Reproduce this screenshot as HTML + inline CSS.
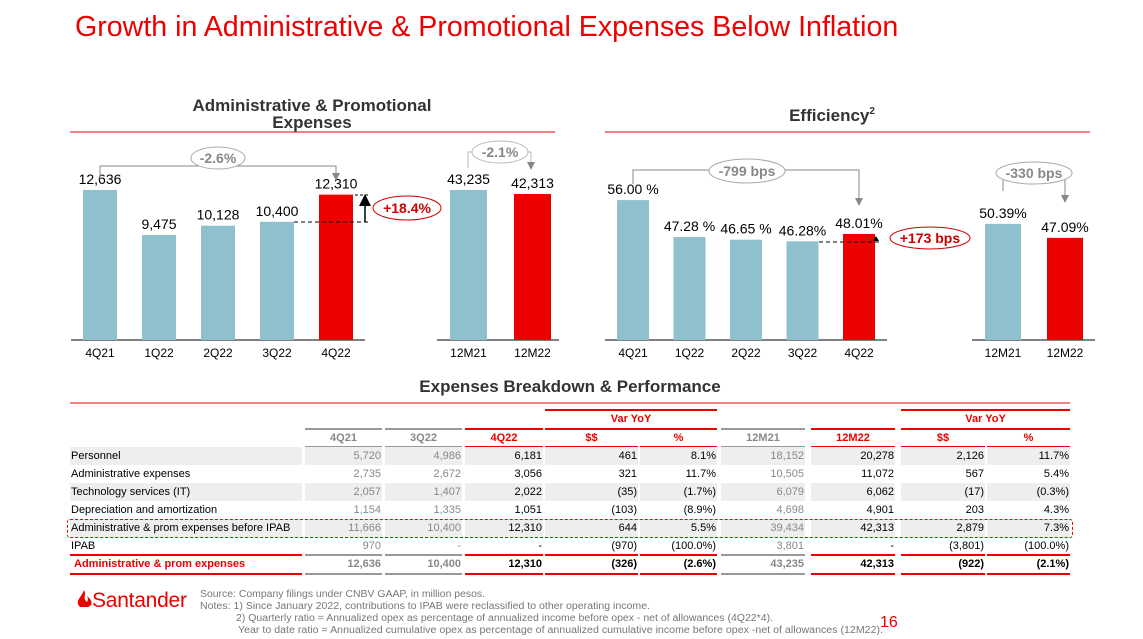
<!DOCTYPE html>
<html><head><meta charset="utf-8"><style>
body{margin:0;width:1143px;height:639px;background:#fff;position:relative;overflow:hidden;font-family:"Liberation Sans",sans-serif}
.a{position:absolute;white-space:nowrap}
.c{position:absolute;font-size:11px;line-height:18px;height:18px;box-sizing:border-box;padding:0 1px;white-space:nowrap}
</style></head><body>
<div class="a" style="left:75px;top:11px;font-size:28.6px;color:#ec0000">Growth in Administrative &amp; Promotional Expenses Below Inflation</div>
<svg id="ch" width="1143" height="639" style="position:absolute;left:0;top:0" font-family="Liberation Sans, sans-serif">
<defs><marker id="ag" markerWidth="8" markerHeight="8" refX="4" refY="4" orient="auto"><path d="M0,0L8,4L0,8z" fill="#888"/></marker>
<marker id="ab" markerWidth="8" markerHeight="8" refX="4" refY="4" orient="auto"><path d="M0,0L8,4L0,8z" fill="#000"/></marker></defs>
<text x="312" y="111" text-anchor="middle" font-size="17" font-weight="bold" fill="#333">Administrative &amp; Promotional</text>
<text x="312" y="128" text-anchor="middle" font-size="17" font-weight="bold" fill="#333">Expenses</text>
<line x1="70" y1="132" x2="555" y2="132" stroke="#ec0000"/>
<text x="832" y="121" text-anchor="middle" font-size="17" font-weight="bold" fill="#333">Efficiency<tspan font-size="10" dy="-7">2</tspan></text>
<line x1="605" y1="132" x2="1090" y2="132" stroke="#ec0000"/>
<text x="570" y="392" text-anchor="middle" font-size="17" font-weight="bold" fill="#333">Expenses Breakdown &amp; Performance</text>
<line x1="70" y1="403" x2="1070" y2="403" stroke="#ec0000"/>
<g id="marks"></g>
<g fill="none" stroke="#888">
<path d="M100,180V166H336V177" marker-end="url(#ag)"/></g>
<ellipse cx="218" cy="158" rx="27" ry="11" fill="#fff" stroke="#aaa"/>
<text x="218" y="163" text-anchor="middle" font-size="14" font-weight="bold" fill="#888">-2.6%</text>
<path d="M468,168V152H531V166" fill="none" stroke="#bbb" marker-end="url(#ag)"/>
<ellipse cx="500" cy="152" rx="28" ry="11" fill="#fff" stroke="#bbb"/>
<text x="500" y="157" text-anchor="middle" font-size="14" font-weight="bold" fill="#888">-2.1%</text>
<line x1="294" y1="222" x2="370" y2="222" stroke="#000" stroke-dasharray="4,3"/>
<line x1="365" y1="222" x2="365" y2="200" stroke="#000" stroke-width="1.5" marker-end="url(#ab)"/>
<line x1="355" y1="195" x2="370" y2="195" stroke="#000" stroke-dasharray="3,2"/>
<ellipse cx="407" cy="208" rx="34" ry="12" fill="#fff" stroke="#c00"/>
<text x="407" y="213" text-anchor="middle" font-size="14" font-weight="bold" fill="#c00">+18.4%</text>
<path d="M633,184V170H859V202" fill="none" stroke="#888" marker-end="url(#ag)"/>
<ellipse cx="747" cy="171" rx="38" ry="12" fill="#fff" stroke="#aaa"/>
<text x="747" y="176" text-anchor="middle" font-size="14" font-weight="bold" fill="#888">-799 bps</text>
<path d="M1003,191V174H1065V199" fill="none" stroke="#888" marker-end="url(#ag)"/>
<ellipse cx="1034" cy="173" rx="38" ry="11" fill="#fff" stroke="#aaa"/>
<text x="1034" y="178" text-anchor="middle" font-size="14" font-weight="bold" fill="#888">-330 bps</text>
<line x1="819" y1="242" x2="882" y2="242" stroke="#000" stroke-dasharray="4,3"/>
<path d="M876,236l3,5h-6z" fill="#000"/>
<ellipse cx="930" cy="238" rx="40" ry="11" fill="#fff" stroke="#c00"/>
<text x="930" y="243" text-anchor="middle" font-size="14" font-weight="bold" fill="#c00">+173 bps</text>
<path d="M80,607c-6-6 2-10 4-17c3,5 -2,8 3,12c2-3 0-6 0-6c6,5 6,9 1,11z" fill="#ec0000"/>
<text x="92" y="607" font-size="21" fill="#ec0000" textLength="95">Santander</text>
<g font-size="10" fill="#777">
<text x="200" y="597" textLength="285" lengthAdjust="spacingAndGlyphs">Source: Company filings under CNBV GAAP, in million pesos.</text>
<text x="200" y="609" textLength="450" lengthAdjust="spacingAndGlyphs">Notes: 1) Since January 2022, contributions to IPAB were reclassified to other operating income.</text>
<text x="236" y="621" textLength="537" lengthAdjust="spacingAndGlyphs">2) Quarterly ratio = Annualized opex as percentage of annualized income before opex - net of allowances (4Q22*4).</text>
<text x="238" y="633" textLength="645" lengthAdjust="spacingAndGlyphs">Year to date ratio = Annualized cumulative opex as percentage of annualized cumulative income before opex -net of allowances (12M22).</text>
</g>
<text x="880" y="627" font-size="16" fill="#ec0000">16</text>
</svg>
<div id="tbl"></div>
<script>
const qCats=["4Q21","1Q22","2Q22","3Q22","4Q22"];
const qAdmin=[12636,9475,10128,10400,12310];
const yCats=["12M21","12M22"];
const yAdmin=[43235,42313];
const qEff=[56.00,47.28,46.65,46.28,48.01];
const qEffLabels=["56.00 %","47.28 %","46.65 %","46.28%","48.01%"];
const yEff=[50.39,47.09];
const yEffLabels=["50.39%","47.09%"];

const NS="http://www.w3.org/2000/svg";
const g=document.getElementById('marks');
const BASE=340;
function mk(tag,attrs,txt){const e=document.createElementNS(NS,tag);for(const k in attrs)e.setAttribute(k,attrs[k]);if(txt!==undefined)e.textContent=txt;g.appendChild(e);return e;}
function drawChart(name,cats,vals,labels,x0,step,w,yScale,axisX1,axisX2){
  mk('line',{x1:axisX1,y1:BASE,x2:axisX2,y2:BASE,stroke:'#000'});
  cats.forEach((c,i)=>{
    const x=x0+i*step, y=yScale(vals[i]);
    const last=i===cats.length-1;
    const r=mk('rect',{x:x,y:y,width:w,height:BASE-y,fill:last?'#ec0000':'#8fc0ce'});
    
    
    const t=mk('text',{x:x+w/2,y:y-6,'text-anchor':'middle','font-size':14,fill:'#000'},labels[i]);
    
    
    const l=mk('text',{x:x+w/2,y:BASE+17,'text-anchor':'middle','font-size':12,fill:'#000'},c);
    
    
  });
}
const fmt=v=>v.toLocaleString('en-US');
const yA=v=>BASE-(v-2100)*0.01424;
const yY=v=>BASE-(v-8658)*0.004338;
const yE=v=>BASE-(v-23)*4.24;
drawChart('admin-q',qCats,qAdmin,qAdmin.map(fmt),83,59,34,yA,71,365);
drawChart('admin-y',yCats,yAdmin,yAdmin.map(fmt),450,64,37,yY,437,559);
drawChart('eff-q',qCats,qEff,qEffLabels,617,56.5,32,yE,605,887);
drawChart('eff-y',yCats,yEff,yEffLabels,985,62,36,yE,972,1095);

const cols=[[70,302],[305,382],[385,462],[465,543],[545,638],[640,717],[721,805],[811,895],[901,985],[987,1070]];
const colType=['l','g','g','r','r','r','g','r','r','r'];
const heads=["","4Q21","3Q22","4Q22","$$","%","12M21","12M22","$$","%"];
const rows=[
["Personnel","5,720","4,986","6,181","461","8.1%","18,152","20,278","2,126","11.7%"],
["Administrative expenses","2,735","2,672","3,056","321","11.7%","10,505","11,072","567","5.4%"],
["Technology services (IT)","2,057","1,407","2,022","(35)","(1.7%)","6,079","6,062","(17)","(0.3%)"],
["Depreciation and amortization","1,154","1,335","1,051","(103)","(8.9%)","4,698","4,901","203","4.3%"],
["Administrative & prom expenses before IPAB","11,666","10,400","12,310","644","5.5%","39,434","42,313","2,879","7.3%"],
["IPAB","970","-","-","(970)","(100.0%)","3,801","-","(3,801)","(100.0%)"],
["Administrative & prom expenses","12,636","10,400","12,310","(326)","(2.6%)","43,235","42,313","(922)","(2.1%)"]];
const T=document.getElementById('tbl');
function cell(x,y,w,txt,st,name){const d=document.createElement('div');d.className='c';d.style.cssText=`left:${x}px;top:${y}px;width:${w}px;`+st;d.textContent=txt;


T.appendChild(d);}
function hl(x1,x2,y,c,h){const d=document.createElement('div');d.style.cssText=`position:absolute;left:${x1}px;top:${y}px;width:${x2-x1}px;height:${h||2}px;background:${c}`;T.appendChild(d);}
[[4,5],[8,9]].forEach(p=>{const x1=cols[p[0]][0],x2=cols[p[1]][1];
 hl(x1,x2,409,'#ec0000');cell(x1,410,x2-x1,'Var YoY','text-align:center;color:#ec0000;font-weight:bold','var-yoy-header');hl(x1,x2,428,'#ec0000');});
for(let j=1;j<10;j++){const [x1,x2]=cols[j];const red=colType[j]==='r';
 const c=red?'#ec0000':'#999';
 if(j!==4&&j!==5&&j!==8&&j!==9)hl(x1,x2,428,c);
 cell(x1,429,x2-x1,heads[j],`text-align:center;font-weight:bold;color:${red?'#ec0000':'#888'}`,'column-header');
 hl(x1,x2,446,c);}
rows.forEach((r,i)=>{const y=447+i*18;const last=i===6;
 r.forEach((v,j)=>{const [x1,x2]=cols[j];let st='';
  if(i%2===0&&!last)st+='background:#eeeeee;';
  if(j===0){st+='text-align:left;color:'+(last?'#ec0000;font-weight:bold;padding-left:4px':'#000');}
  else{st+='text-align:right;color:'+(colType[j]==='g'?'#888':'#000')+';'+(last?'font-weight:bold':'');}
  cell(x1,y,x2-x1,v,st,j===0?'row-label':'table-cell');
 });
 if(last){cols.forEach((c,j)=>{const col=(j===0||colType[j]==='r')?'#ec0000':'#999';hl(c[0],c[1],y-1,col);hl(c[0],c[1],y+18,col);});}
});
const box=document.createElement('div');box.style.cssText='position:absolute;left:67px;top:519px;width:1004px;height:17px;border:1px dashed #ec0000;border-radius:3px';


T.appendChild(box);
</script>
</body></html>
